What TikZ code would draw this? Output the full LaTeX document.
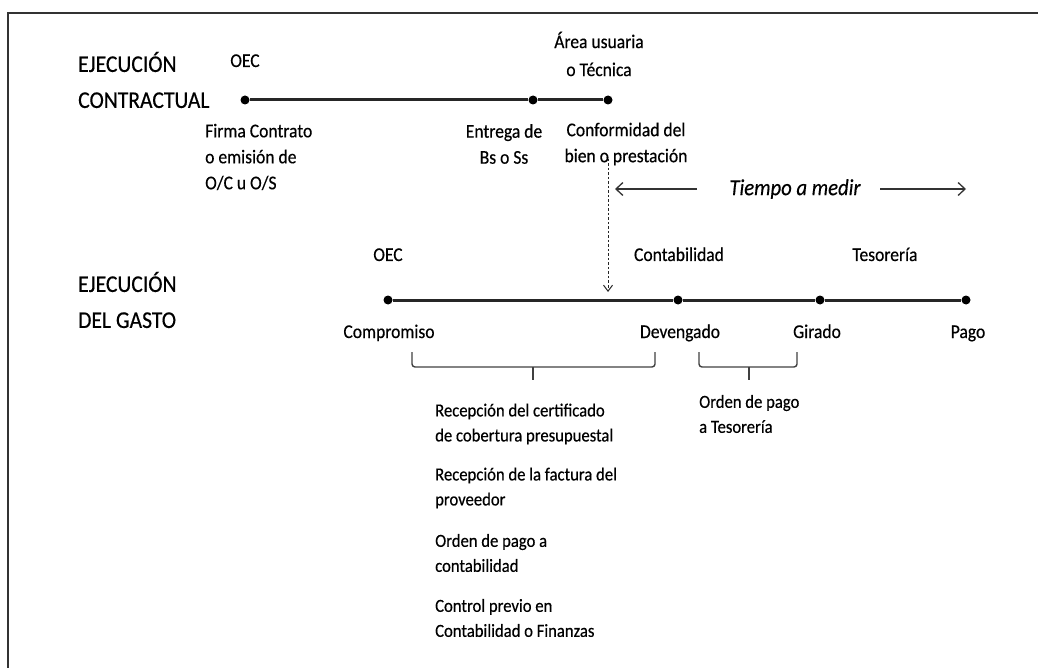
\documentclass[tikz,border=0pt]{standalone}
\usepackage{fontspec}
\setmainfont{Carlito}[FakeStretch=0.9, FakeBold=0.4]
\usetikzlibrary{arrows.meta}
\tikzset{
 frameline/.style={line width=2pt, black!80},
 tline/.style={line width=3pt, black!85},
 tdot/.style={circle, fill=black, inner sep=0pt, minimum size=9pt},
 head/.style={font=\fontsize{24}{36}\selectfont, align=left, anchor=west, inner sep=0pt},
 lbl/.style={font=\fontsize{19.5}{26}\selectfont, inner sep=0pt, align=center},
 lblb/.style={font=\fontsize{19.5}{26}\selectfont, inner sep=0pt, anchor=base},
 lbll/.style={font=\fontsize{19.5}{26}\selectfont, inner sep=0pt, align=left, anchor=west},
 blk/.style={font=\fontsize{18.5}{25}\selectfont, inner sep=0pt, align=left, anchor=west},
 bracket/.style={line width=1.4pt, black!75, rounded corners=3pt},
 tarrow/.style={-{Straight Barb[length=7pt,width=13pt]}, line width=1.3pt, black!80},
 darrow/.style={-{Straight Barb[length=6pt,width=9pt]}, line width=1pt, black!85, dash pattern=on 2.5pt off 2pt},
}
\begin{document}
\begin{tikzpicture}[x=1pt,y=-1pt]
\useasboundingbox (0,0) rectangle (1038,668);
% frame (top and left only)
\coordinate (fr1) at (1038,13);
\coordinate (fr2) at (8,13);
\coordinate (fr3) at (8,668);
\draw[frameline] (fr1) -- (fr2) -- (fr3);

% headings
\node[head] (h1) at (78,80) {EJECUCIÓN\\CONTRACTUAL};
\node[head] (h2) at (78,300) {EJECUCIÓN\\DEL GASTO};

% contractual timeline
\node[tdot] (c0) at (245,100) {};
\node[tdot] (c1) at (533,100) {};
\node[tdot] (c2) at (608,100) {};
\draw[tline] (c0) -- (c1) -- (c2);

\node[lblb] (oec1) at (245,67) {OEC};
\node[lbl, font=\fontsize{19.5}{28}\selectfont] (area) at (599,54) {Área usuaria\\o Técnica};
\node[lbll] (firma) at (205,157) {Firma Contrato\\o emisión de\\O/C u O/S};
\node[lbl] (entrega) at (504,144) {Entrega de\\Bs o Ss};
\node[lbl] (conf) at (626,144) {Conformidad del\\bien o prestación};

% dashed arrow
\coordinate (da) at (608,159);
\coordinate (db) at (608,292);
\draw[darrow] (da) -- (db);

% tiempo a medir
\node[font=\fontsize{23}{26}\selectfont\itshape, inner sep=0pt] (tiempo) at (795,189) {Tiempo a medir};
\coordinate (tl1) at (697,189);
\coordinate (tl2) at (615,189);
\coordinate (tr1) at (880,189);
\coordinate (tr2) at (966,189);
\draw[tarrow] (tl1) -- (tl2);
\draw[tarrow] (tr1) -- (tr2);

% spending timeline
\node[tdot] (g0) at (388,300) {};
\node[tdot] (g1) at (678,300) {};
\node[tdot] (g2) at (820,300) {};
\node[tdot] (g3) at (966,300) {};
\draw[tline] (g0) -- (g1) -- (g2) -- (g3);

\node[lblb] (oec2) at (388,261) {OEC};
\node[lblb] (conta) at (679,261) {Contabilidad};
\node[lblb] (teso) at (885,261) {Tesorería};
\node[lblb] (comp) at (389,338) {Compromiso};
\node[lblb] (dev) at (680,338) {Devengado};
\node[lblb] (gir) at (817,338) {Girado};
\node[lblb] (pago) at (968,338) {Pago};

% brackets
\coordinate (b1a) at (412,352);
\coordinate (b1b) at (655,352);
\coordinate (b1m) at (533,367);
\coordinate (b1t) at (533,380);
\draw[bracket] (b1a) -- (412,367) -- (655,367) -- (b1b);
\draw[line width=1.4pt, black!75] (b1m) -- (b1t);

\coordinate (b2a) at (699,352);
\coordinate (b2b) at (797,352);
\coordinate (b2m) at (749,367);
\coordinate (b2t) at (749,380);
\draw[bracket] (b2a) -- (699,367) -- (797,367) -- (b2b);
\draw[line width=1.4pt, black!75] (b2m) -- (b2t);

% texts under brackets
\node[blk] (t1) at (435,424) {Recepción del certificado\\de cobertura presupuestal};
\node[blk] (t2) at (435,488) {Recepción de la factura del\\proveedor};
\node[blk] (t3) at (435,553) {Orden de pago a\\contabilidad};
\node[blk] (t4) at (435,618) {Control previo en\\Contabilidad o Finanzas};
\node[blk] (t5) at (699,414) {Orden de pago\\a Tesorería};
\end{tikzpicture}
\end{document}
